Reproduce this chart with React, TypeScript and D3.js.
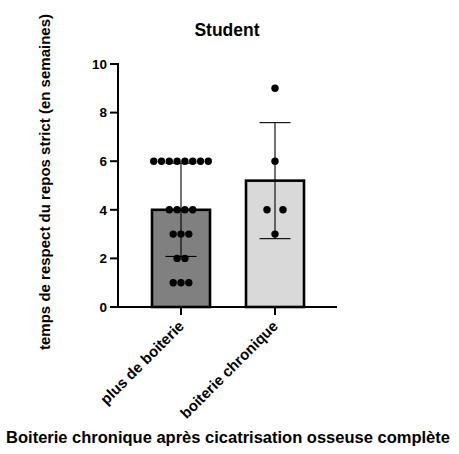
import React from "react";
import * as d3 from "d3";

const categories = ["plus de boiterie", "boiterie chronique"];
const valuesNoLimp = [6, 6, 6, 6, 6, 6, 6, 6, 4, 4, 4, 4, 3, 3, 3, 2, 2, 1, 1, 1];
const valuesChronic = [9, 6, 4, 4, 3];
const seriesValues = [valuesNoLimp, valuesChronic];
const barFills = ["#808080", "#d9d9d9"];
const dotSpacing = [7.8, 16];
const yTicks = [0, 2, 4, 6, 8, 10];
const title = "Student";
const yTitle = "temps de respect du repos strict (en semaines)";
const xTitle = "Boiterie chronique après cicatrisation osseuse complète";

const FONT = "'Liberation Sans', Arial, Helvetica, sans-serif";

export default function App() {
  const W = 459;
  const H = 454;
  const y = d3.scaleLinear().domain([0, 10]).range([307, 64]);
  const x = d3.scalePoint<string>().domain(categories).range([134, 322]).padding(0.5);
  const axisLeft = 118;
  const axisRight = 337;
  const barW = 58;
  const capW = 31;

  return (
    <svg width={W} height={H} style={{ position: "absolute", left: 0, top: 0 }} fontFamily={FONT}>
      <rect width={W} height={H} fill="#fff" />
      <text x={227} y={36} textAnchor="middle" fontWeight="bold" fontSize={17.5}>{title}</text>

      {categories.map((c, i) => {
        const vals = seriesValues[i];
        const mean = d3.mean(vals) as number;
        const sd = d3.deviation(vals) as number;
        const cx = x(c) as number;
        const groups = d3.groups(vals, (v) => v);
        return (
          <g key={c}>
            <rect x={cx - barW / 2} y={y(mean)} width={barW} height={y(0) - y(mean)} fill={barFills[i]} stroke="#000" strokeWidth={2.6} />
            <line x1={cx} x2={cx} y1={y(mean - sd)} y2={y(mean + sd)} stroke="#000" strokeWidth={1.1} />
            <line x1={cx - capW / 2} x2={cx + capW / 2} y1={y(mean - sd)} y2={y(mean - sd)} stroke="#000" strokeWidth={1.1} />
            <line x1={cx - capW / 2} x2={cx + capW / 2} y1={y(mean + sd)} y2={y(mean + sd)} stroke="#000" strokeWidth={1.1} />
            {groups.map(([v, arr]) =>
              arr.map((_, j) => (
                <circle key={`${v}-${j}`} cx={cx + (j - (arr.length - 1) / 2) * dotSpacing[i]} cy={y(v)} r={3.7} fill="#000" />
              ))
            )}
          </g>
        );
      })}

      {/* y axis */}
      <line x1={axisLeft} x2={axisLeft} y1={y(10) - 1} y2={y(0) + 1} stroke="#000" strokeWidth={2} />
      {yTicks.map((t) => (
        <g key={t}>
          <line x1={axisLeft - 8} x2={axisLeft} y1={y(t)} y2={y(t)} stroke="#000" strokeWidth={2} />
          <text x={axisLeft - 11} y={y(t)} dy="0.35em" textAnchor="end" fontWeight="bold" fontSize={13.5}>{t}</text>
        </g>
      ))}

      {/* x axis */}
      <line x1={axisLeft - 1} x2={axisRight} y1={y(0)} y2={y(0)} stroke="#000" strokeWidth={2} />
      {categories.map((c) => {
        const cx = x(c) as number;
        return (
          <g key={c}>
            <line x1={cx} x2={cx} y1={y(0)} y2={y(0) + 8} stroke="#000" strokeWidth={2} />
            <text transform={`translate(${cx + 4},${y(0) + 20}) rotate(-45)`} textAnchor="end" fontWeight="bold" fontSize={15}>{c}</text>
          </g>
        );
      })}

      <text transform={`translate(50,182) rotate(-90)`} textAnchor="middle" fontWeight="bold" fontSize={15}>{yTitle}</text>
      <text x={228} y={443} textAnchor="middle" fontWeight="bold" fontSize={16.5}>{xTitle}</text>
    </svg>
  );
}
